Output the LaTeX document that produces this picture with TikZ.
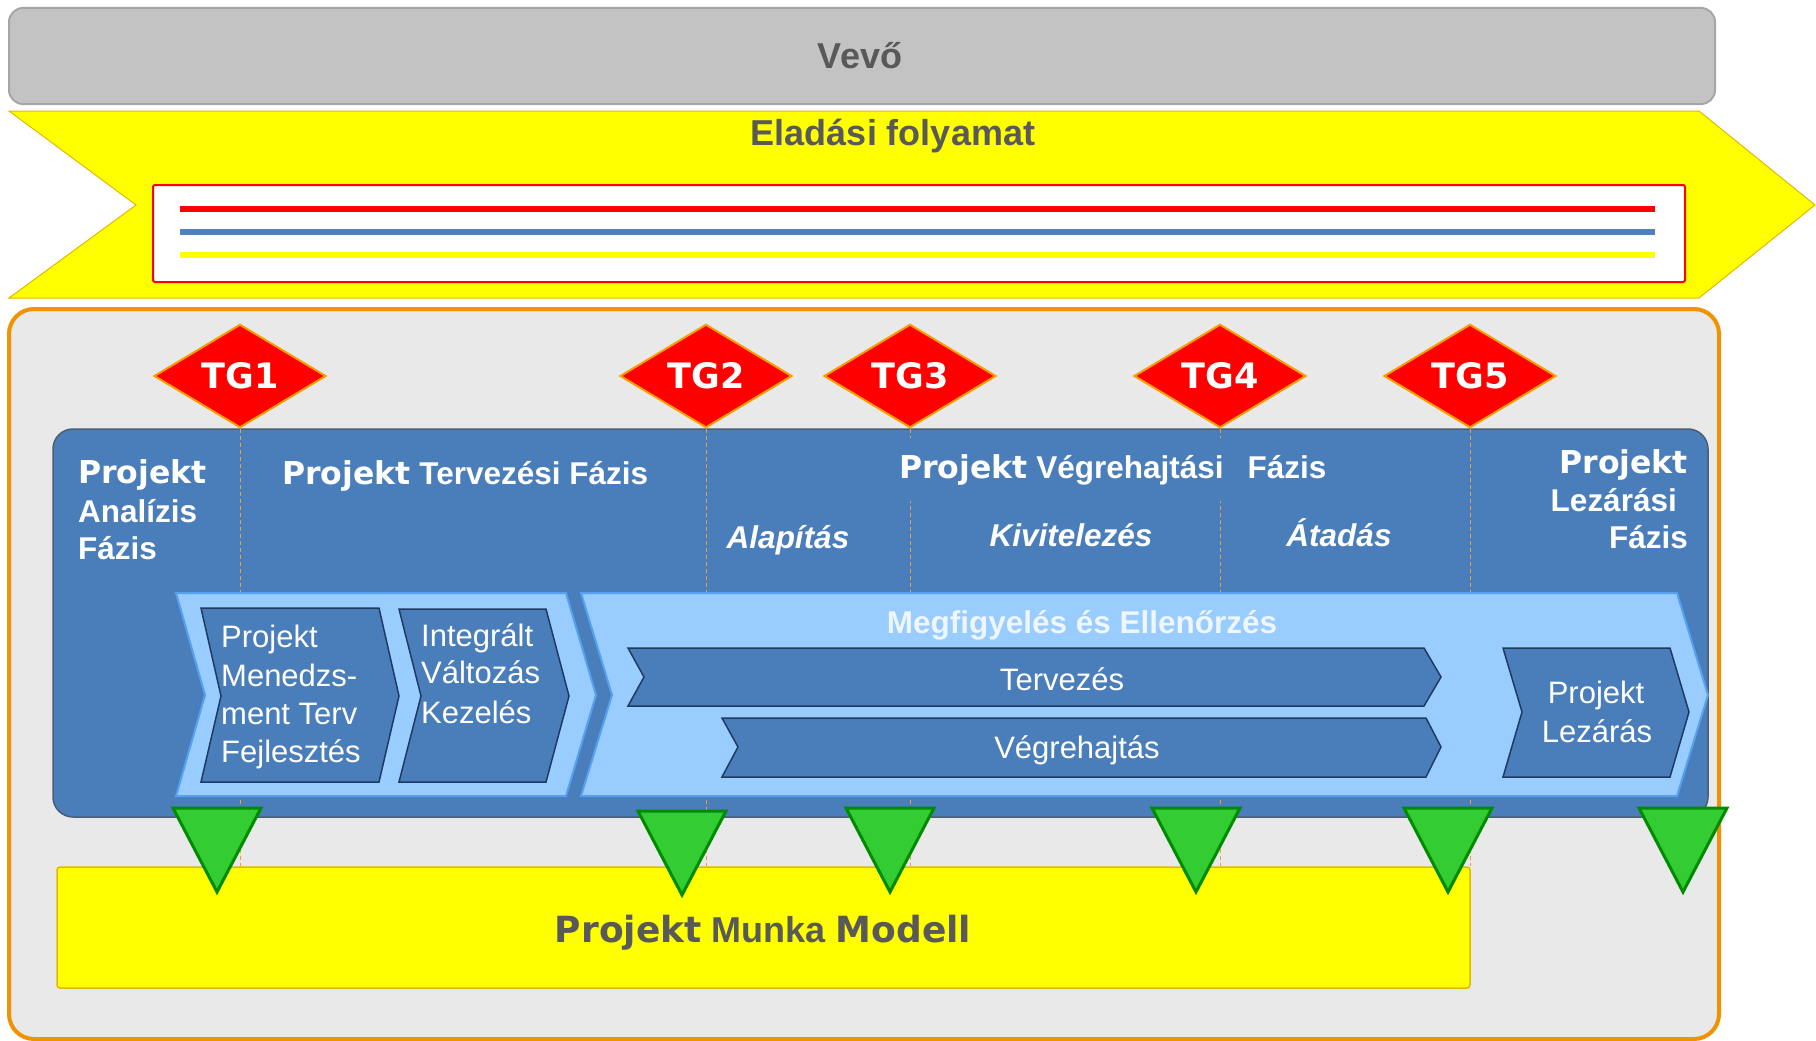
\documentclass[tikz,border=0pt]{standalone}
\usepackage{fontspec}
\setmainfont{Liberation Sans}
\newfontfamily\vfont{DejaVu Sans}
\usetikzlibrary{shapes.geometric}

\definecolor{vevogray}{HTML}{C3C3C3}
\definecolor{vevoedge}{HTML}{A6A6A6}
\definecolor{txtgray}{HTML}{595959}
\definecolor{saleyellow}{HTML}{FFFF00}
\definecolor{saleedge}{HTML}{E5B800}
\definecolor{frameorange}{HTML}{F39200}
\definecolor{framefill}{HTML}{E9E9E9}
\definecolor{panelblue}{HTML}{4A7EBB}
\definecolor{paneledge}{HTML}{4A5E74}
\definecolor{bandblue}{HTML}{99CCFF}
\definecolor{bandedge}{HTML}{55A0F0}
\definecolor{chevedge}{HTML}{1F3B60}
\definecolor{tgorange}{HTML}{F5A000}
\definecolor{dashorange}{HTML}{E8A040}
\definecolor{trigreen}{HTML}{33CC33}
\definecolor{triedge}{HTML}{008C00}
\definecolor{linkblue}{HTML}{4F81BD}
\definecolor{montext}{HTML}{EEF6FF}

\tikzset{
  vevobox/.style={fill=vevogray, draw=vevoedge, line width=2, rounded corners=14},
  salesarrow/.style={fill=saleyellow, draw=saleedge, line width=1},
  salesbox/.style={fill=white, draw=red, line width=2, rounded corners=2},
  frame/.style={fill=framefill, draw=frameorange, line width=4, rounded corners=25},
  panel/.style={fill=panelblue, draw=paneledge, line width=1.5, rounded corners=20},
  model/.style={fill=saleyellow, draw=saleedge, line width=1.5, rounded corners=3,
    minimum width=1413, minimum height=121, inner sep=0},
  tg/.style={diamond, fill=red, draw=tgorange, line width=2, minimum width=172,
    minimum height=97, inner sep=0, text=white, font=\vfont\bfseries\fontsize{35}{40}\selectfont},
  tgline/.style={draw=dashorange, line width=1, dash pattern=on 4pt off 3pt},
  toplbl/.style={text=txtgray, inner sep=0, anchor=base, font=\bfseries\fontsize{36}{43}\selectfont},
  ttl/.style={text=white, inner sep=0, font=\bfseries\fontsize{31.5}{38}\selectfont},
  sub/.style={ttl, anchor=base, font=\bfseries\itshape\fontsize{31.5}{38}\selectfont},
  band/.style={fill=bandblue, draw=bandedge, line width=2},
  chev/.style={fill=panelblue, draw=chevedge, line width=1.5},
  ctxt/.style={text=white, inner sep=0, font=\fontsize{31}{38}\selectfont},
  gtri/.style={fill=trigreen, draw=triedge, line width=3, line join=miter}
}

\begin{document}
\begin{tikzpicture}[x=1pt,y=-1pt]
  \useasboundingbox (0,0) rectangle (1816,1041);
  \fill[white] (0,0) rectangle (1816,1041);

  % customer
  \draw[vevobox] (9,8) rectangle (1715,104);
  \node[toplbl] (vevo) at (860,69) {Vevő};

  % sales process
  \draw[salesarrow] (9,111) -- (1699,111) -- (1815,205) -- (1699,298)
    -- (9,298) -- (136,205) -- cycle;
  \node[toplbl] (sales) at (893,145) {Eladási folyamat};
  \draw[salesbox] (153,185) rectangle (1685,282);
  \draw[line width=6, red] (180,209) -- (1655,209);
  \draw[line width=6, linkblue] (180,232) -- (1655,232);
  \draw[line width=6, saleyellow] (180,255) -- (1655,255);

  % project frame
  \draw[frame] (9,309) rectangle (1719,1039);
  \draw[panel] (53,429) rectangle (1708,817);
  \node[model] (mm) at (763.5,927.5) {};

  % gates
  \foreach \x/\n in {240/1,706/2,910/3,1220/4,1470/5}
    \node[tg] (tg\n) at (\x,376) {TG\n};
  \foreach \n in {1,...,5}
    \draw[tgline] (tg\n.south) -- (tg\n.south |- mm.north);

  % phases
  \node[ttl, anchor=base west] (an1) at (78,483) {\vfont Projekt};
  \node[ttl, anchor=base west] (an2) at (78,522) {Analízis};
  \node[ttl, anchor=base west] (an3) at (78,559) {Fázis};
  \node[ttl, anchor=base west] (terv) at (282,484) {{\vfont Projekt} Tervezési Fázis};
  \node[ttl, anchor=base west, fill=panelblue, inner ysep=16] (vegr) at (899,478)
    {{\vfont Projekt} Végrehajtási\hspace{24pt}Fázis};
  \node[ttl, anchor=base east] (lz1) at (1688,473) {\vfont Projekt};
  \node[ttl, anchor=base east] (lz2) at (1677,511) {Lezárási};
  \node[ttl, anchor=base east] (lz3) at (1688,548) {Fázis};
  \node[sub] (alap) at (788,548) {Alapítás};
  \node[sub] (kiv) at (1071,546) {Kivitelezés};
  \node[sub] (atad) at (1339,546) {Átadás};

  % process bands
  \draw[band] (176,593) -- (566,593) -- (596,695) -- (566,796) -- (176,796) -- (205,695) -- cycle;
  \draw[band] (581,593) -- (1677,593) -- (1708,695) -- (1677,796) -- (581,796) -- (612,695) -- cycle;
  \draw[chev] (201,608) -- (379,608) -- (399,696) -- (379,782) -- (201,782) -- (221,696) -- cycle;
  \draw[chev] (399,609) -- (546,609) -- (569,696) -- (546,782) -- (399,782) -- (421,696) -- cycle;
  \draw[chev] (628,648) -- (1424,648) -- (1441,677) -- (1424,706) -- (628,706) -- (644,677) -- cycle;
  \draw[chev] (722,718) -- (1426,718) -- (1441,747) -- (1426,777) -- (722,777) -- (738,747) -- cycle;
  \draw[chev] (1503,648) -- (1670,648) -- (1689,712) -- (1670,777) -- (1503,777) -- (1522,712) -- cycle;

  \node[ctxt, anchor=base west] (pm1) at (221,647) {Projekt};
  \node[ctxt, anchor=base west] (pm2) at (221,686) {Menedzs-};
  \node[ctxt, anchor=base west] (pm3) at (221,724) {ment Terv};
  \node[ctxt, anchor=base west] (pm4) at (221,762) {Fejlesztés};
  \node[ctxt, anchor=base west] (iv1) at (421,646) {Integrált};
  \node[ctxt, anchor=base west] (iv2) at (421,683) {Változás};
  \node[ctxt, anchor=base west] (iv3) at (421,723) {Kezelés};
  \node[ttl, anchor=base, text=montext] (mon) at (1082,633) {Megfigyelés és Ellenőrzés};
  \node[ctxt, anchor=base] (tv) at (1062,690) {Tervezés};
  \node[ctxt, anchor=base] (vh) at (1077,758) {Végrehajtás};
  \node[ctxt, anchor=base] (pl1) at (1596,703) {Projekt};
  \node[ctxt, anchor=base] (pl2) at (1597,742) {Lezárás};

  % deliverables
  \foreach \x/\y in {217/808,682/811,890/808,1196/808,1448/808,1683/808}
    \draw[gtri] (\x-44,\y) -- (\x+44,\y) -- (\x,\y+84) -- cycle;

  \node[toplbl] (mmt) at (763,942) {{\vfont Projekt} Munka {\vfont Modell}};
\end{tikzpicture}
\end{document}
